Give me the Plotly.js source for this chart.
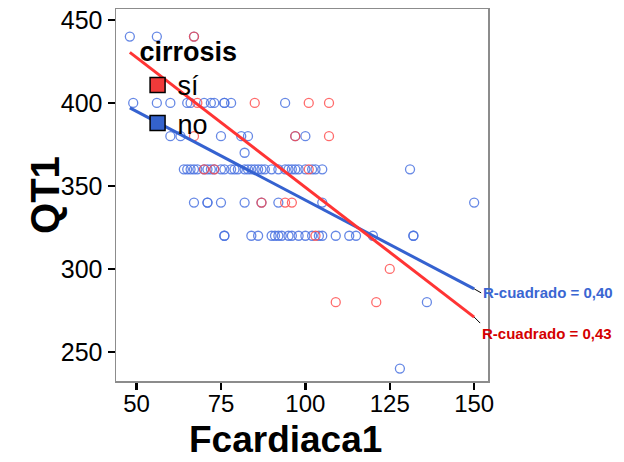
<!DOCTYPE html>
<html>
<head>
<meta charset="utf-8">
<script src="https://cdn.plot.ly/plotly-3.0.1.min.js"></script>
<style>html,body{margin:0;padding:0;background:#fff;}#chart{width:624px;height:462px;}</style>
</head>
<body>
<div id="chart"></div>
<script>
// "no" group (blue)
const noX = [48,56,67,
  49,56,60,65,66,70,72,73,76,76,78,94,
  60,63,75,81,83,97,100,
  82,
  64,65,66,67,68,70,71,72,73,75,76,78,79,80,82,83,84,85,86,87,88,90,92,94,95,96,97,98,100,102,103,105,131,
  67,71,71,75,82,87,92,105,150,
  76,76,84,86,90,91,92,93,95,96,98,100,102,104,105,109,113,115,120,132,132,
  136,
  128];
const noY = [440,440,440,
  400,400,400,400,400,400,400,400,400,400,400,400,
  380,380,380,380,380,380,380,
  370,
  360,360,360,360,360,360,360,360,360,360,360,360,360,360,360,360,360,360,360,360,360,360,360,360,360,360,360,360,360,360,360,360,360,
  340,340,340,340,340,340,340,340,340,
  320,320,320,320,320,320,320,320,320,320,320,320,320,320,320,320,320,320,320,320,320,
  280,
  240];
// "sí" group (red)
const siX = [67, 68,85,101,107, 67,97,107, 70,73,101, 87,94,96, 103, 125, 109,121];
const siY = [440, 400,400,400,400, 380,380,380, 360,360,360, 340,340,340, 320, 300, 280,280];
// linear fit lines
const fitX = [48, 150];
const fitNo = [397, 288];
const fitSi = [430.5, 271];
const r2Labels = ['R-cuadrado = 0,40', 'R-cuadrado = 0,43'];
const groups = ['sí', 'no'];
const xTitle = 'Fcardiaca1', yTitle = 'QT1';

const blue = '#3562d0', red = '#ff3434';
const traces = [
  {x: noX, y: noY, type: 'scatter', mode: 'markers', showlegend: false,
   marker: {symbol: 'circle-open', size: 9, color: 'rgba(75,115,225,0.85)', line: {width: 1.3}}},
  {x: siX, y: siY, type: 'scatter', mode: 'markers', showlegend: false,
   marker: {symbol: 'circle-open', size: 9, color: 'rgba(255,70,70,0.8)', line: {width: 1.3}}},
  {x: fitX, y: fitNo, type: 'scatter', mode: 'lines', showlegend: false,
   line: {color: blue, width: 3}},
  {x: fitX, y: fitSi, type: 'scatter', mode: 'lines', showlegend: false,
   line: {color: red, width: 3}},
  {x: [null], y: [null], type: 'scatter', mode: 'markers', name: groups[0],
   marker: {symbol: 'square', size: 15, color: '#f03a3a', line: {color: '#000', width: 1.5}}},
  {x: [null], y: [null], type: 'scatter', mode: 'markers', name: groups[1],
   marker: {symbol: 'square', size: 15, color: '#3462cc', line: {color: '#000', width: 1.5}}}
];

const layout = {
  width: 624, height: 462,
  margin: {l: 116, r: 136, t: 9, b: 81},
  paper_bgcolor: '#fff', plot_bgcolor: '#fff',
  font: {family: 'Liberation Sans, Arial, sans-serif', color: '#000'},
  xaxis: {
    range: [43.9, 154.1], tickvals: [50, 75, 100, 125, 150],
    showgrid: false, zeroline: false,
    showline: true, mirror: true, linecolor: '#8c8c8c', linewidth: 1.5,
    ticks: 'outside', ticklen: 7, tickwidth: 2.5, tickcolor: '#000',
    tickfont: {size: 24}, ticklabelstandoff: -6
  },
  yaxis: {
    range: [232.5, 456.6], tickvals: [250, 300, 350, 400, 450],
    showgrid: false, zeroline: false,
    showline: true, mirror: true, linecolor: '#8c8c8c', linewidth: 1.5,
    ticks: 'outside', ticklen: 7, tickwidth: 2.5, tickcolor: '#000',
    tickfont: {size: 25}
  },
  legend: {
    x: 0.058, y: 0.955, xanchor: 'left', yanchor: 'top',
    bgcolor: 'rgba(0,0,0,0)',
    title: {text: 'cirrosis', font: {size: 27, weight: 'bold'}},
    font: {size: 27}, itemwidth: 30, tracegroupgap: 0
  },
  annotations: [
    {xref: 'paper', yref: 'paper', x: -0.191, y: 0.5, text: yTitle, textangle: -90,
     showarrow: false, xanchor: 'center', yanchor: 'middle',
     font: {size: 40, weight: 'bold', color: '#000'}},
    {xref: 'paper', yref: 'paper', x: 0.456, y: -0.215, text: xTitle,
     showarrow: false, xanchor: 'center', yanchor: 'bottom', borderpad: 0,
     font: {size: 37, weight: 'bold', color: '#000'}},
    {x: fitX[1], y: fitNo[1], xref: 'x', yref: 'y', text: r2Labels[0],
     showarrow: true, arrowhead: 0, arrowwidth: 1, arrowcolor: '#000', ax: 7, ay: 4,
     xanchor: 'left', yanchor: 'middle',
     font: {size: 15, color: '#3a66d2', weight: 'bold'}},
    {x: fitX[1], y: fitSi[1], xref: 'x', yref: 'y', text: r2Labels[1],
     showarrow: true, arrowhead: 0, arrowwidth: 1, arrowcolor: '#000', ax: 6, ay: 6,
     xanchor: 'left', yanchor: 'top',
     font: {size: 15, color: '#d40000', weight: 'bold'}}
  ]
};

Plotly.newPlot('chart', traces, layout, {displayModeBar: false, staticPlot: true});
</script>
</body>
</html>
